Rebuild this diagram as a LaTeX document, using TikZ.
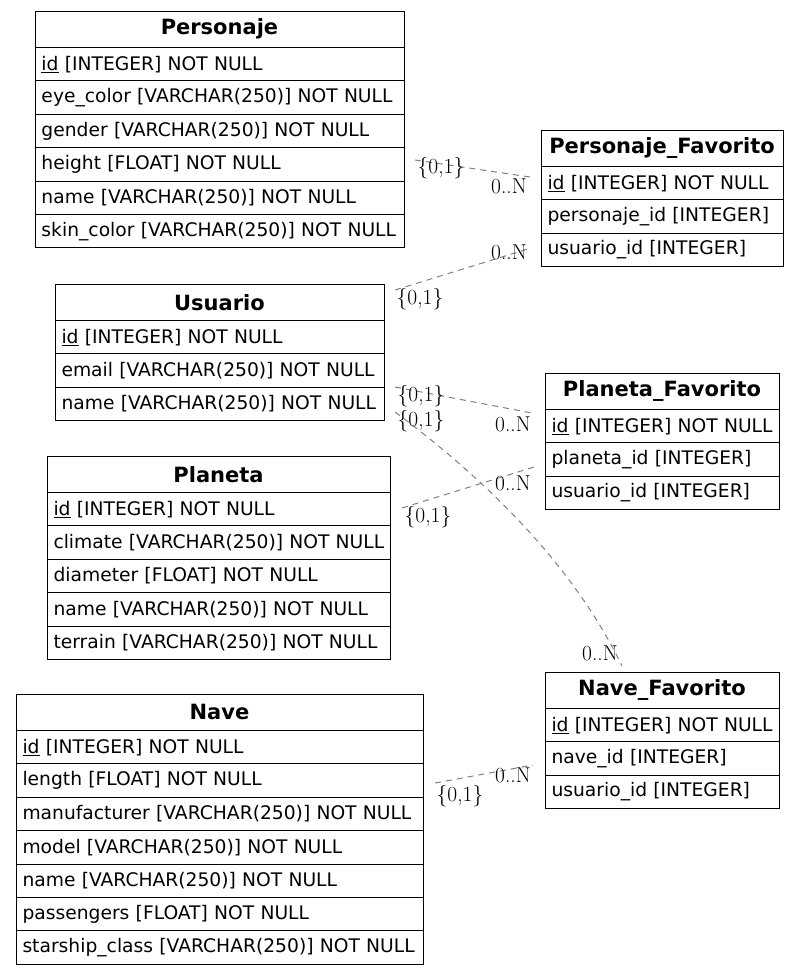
\documentclass[tikz,border=0pt]{standalone}
\usepackage{fontspec}
\newfontfamily\tabfont{DejaVu Sans}
\usetikzlibrary{positioning}

\tikzset{
  tblhead/.style={draw, line width=1pt, anchor=north west, minimum width=#1,
    minimum height=36.5pt, inner sep=0pt, outer sep=0pt,
    font=\tabfont\fontsize{21}{24}\selectfont\bfseries},
  tblrow/.style={draw, line width=1pt, text width=#1, minimum height=33.4pt,
    inner xsep=6.5pt, inner ysep=0pt, outer sep=0pt, align=left,
    font=\tabfont\fontsize{18.7}{22}\selectfont},
  rel/.style={draw=gray, line width=1pt, dash pattern=on 6pt off 5pt},
  card/.style={font=\fontsize{21.5}{24}\selectfont, inner sep=0pt}
}

\begin{document}
\begin{tikzpicture}[x=1pt, y=-1pt]
  \useasboundingbox (0,0) rectangle (800,975);

  % --- tables ---
  \node[tblhead=369pt] (pers-0) at (35,11) {Personaje};
  \foreach \txt [count=\i, remember=\i as \j (initially 0)] in
    {{\underline{id} [INTEGER] NOT NULL}, {eye\_color [VARCHAR(250)] NOT NULL},
     {gender [VARCHAR(250)] NOT NULL}, {height [FLOAT] NOT NULL},
     {name [VARCHAR(250)] NOT NULL}, {skin\_color [VARCHAR(250)] NOT NULL}}
    \node[tblrow=356pt, below=0pt of pers-\j] (pers-\i) {\mbox{\txt}};

  \node[tblhead=242pt] (pfav-0) at (541,130) {Personaje\_Favorito};
  \foreach \txt [count=\i, remember=\i as \j (initially 0)] in
    {{\underline{id} [INTEGER] NOT NULL}, {personaje\_id [INTEGER]},
     {usuario\_id [INTEGER]}}
    \node[tblrow=229pt, below=0pt of pfav-\j] (pfav-\i) {\mbox{\txt}};

  \node[tblhead=329pt] (usr-0) at (55,284) {Usuario};
  \foreach \txt [count=\i, remember=\i as \j (initially 0)] in
    {{\underline{id} [INTEGER] NOT NULL}, {email [VARCHAR(250)] NOT NULL},
     {name [VARCHAR(250)] NOT NULL}}
    \node[tblrow=316pt, below=0pt of usr-\j] (usr-\i) {\mbox{\txt}};

  \node[tblhead=234pt] (plfav-0) at (545,373) {Planeta\_Favorito};
  \foreach \txt [count=\i, remember=\i as \j (initially 0)] in
    {{\underline{id} [INTEGER] NOT NULL}, {planeta\_id [INTEGER]},
     {usuario\_id [INTEGER]}}
    \node[tblrow=221pt, below=0pt of plfav-\j] (plfav-\i) {\mbox{\txt}};

  \node[tblhead=343pt] (plan-0) at (47,456) {Planeta};
  \foreach \txt [count=\i, remember=\i as \j (initially 0)] in
    {{\underline{id} [INTEGER] NOT NULL}, {climate [VARCHAR(250)] NOT NULL},
     {diameter [FLOAT] NOT NULL}, {name [VARCHAR(250)] NOT NULL},
     {terrain [VARCHAR(250)] NOT NULL}}
    \node[tblrow=330pt, below=0pt of plan-\j] (plan-\i) {\mbox{\txt}};

  \node[tblhead=234pt] (nfav-0) at (545,672) {Nave\_Favorito};
  \foreach \txt [count=\i, remember=\i as \j (initially 0)] in
    {{\underline{id} [INTEGER] NOT NULL}, {nave\_id [INTEGER]},
     {usuario\_id [INTEGER]}}
    \node[tblrow=221pt, below=0pt of nfav-\j] (nfav-\i) {\mbox{\txt}};

  \node[tblhead=407pt] (nave-0) at (16,694) {Nave};
  \foreach \txt [count=\i, remember=\i as \j (initially 0)] in
    {{\underline{id} [INTEGER] NOT NULL}, {length [FLOAT] NOT NULL},
     {manufacturer [VARCHAR(250)] NOT NULL}, {model [VARCHAR(250)] NOT NULL},
     {name [VARCHAR(250)] NOT NULL}, {passengers [FLOAT] NOT NULL},
     {starship\_class [VARCHAR(250)] NOT NULL}}
    \node[tblrow=394pt, below=0pt of nave-\j] (nave-\i) {\mbox{\txt}};

  % --- relation ends ---
  \coordinate (pers-out) at (415,160);  \coordinate (pfav-in1) at (530,177);
  \coordinate (usr-out1) at (395,290);  \coordinate (pfav-in2) at (531,248);
  \coordinate (usr-out2) at (395,387);  \coordinate (plfav-in1) at (532,413);
  \coordinate (usr-out3) at (395,412);  \coordinate (nfav-in1) at (622,666);
  \coordinate (plan-out) at (402,508);  \coordinate (plfav-in2) at (534,467);
  \coordinate (nave-out) at (435,783);  \coordinate (nfav-in2) at (533,765);

  % --- relations ---
  \draw[rel] (pers-out) -- (pfav-in1);
  \draw[rel] (usr-out1) -- (pfav-in2);
  \draw[rel] (usr-out2) -- (plfav-in1);
  \draw[rel] (usr-out3) .. controls (480,475) and (572,562) .. (nfav-in1);
  \draw[rel] (plan-out) -- (plfav-in2);
  \draw[rel] (nave-out) -- (nfav-in2);

  % cardinalities
  \node[card] (c1a) at (441,168) {\{0,1\}};
  \node[card] (c1b) at (509,186) {0..N};
  \node[card] (c2a) at (420,299) {\{0,1\}};
  \node[card] (c2b) at (509,252) {0..N};
  \node[card] (c3a) at (421,396) {\{0,1\}};
  \node[card] (c3b) at (513,424) {0..N};
  \node[card] (c4a) at (421,421) {\{0,1\}};
  \node[card] (c4b) at (600,653) {0..N};
  \node[card] (c5a) at (428,517) {\{0,1\}};
  \node[card] (c5b) at (513,483) {0..N};
  \node[card] (c6a) at (460,796) {\{0,1\}};
  \node[card] (c6b) at (513,775) {0..N};
\end{tikzpicture}
\end{document}
